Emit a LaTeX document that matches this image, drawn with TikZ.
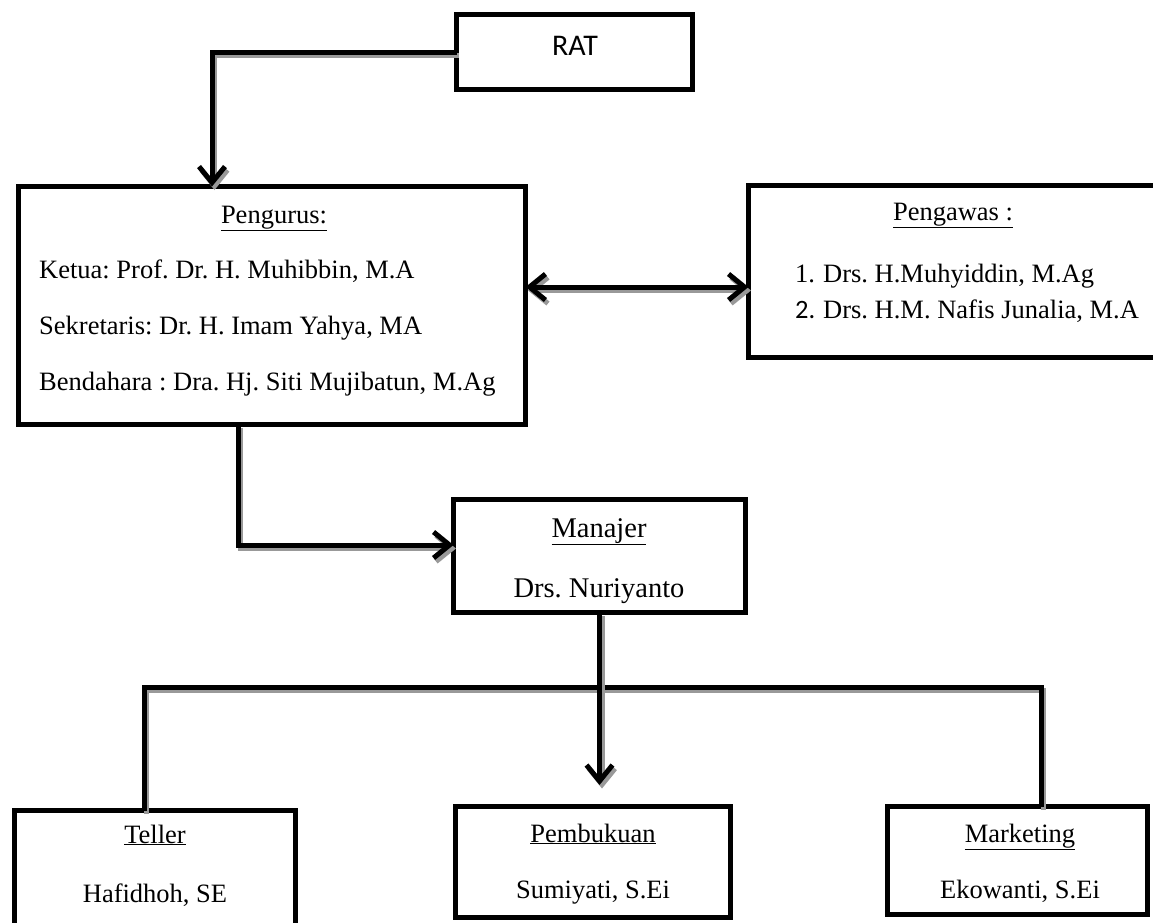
\documentclass[tikz,border=0pt]{standalone}
\usepackage{fontspec}
\setmainfont{Liberation Serif}
\newfontfamily\calibri{Carlito}
\usetikzlibrary{arrows.meta,calc}
\frenchspacing
\tikzset{
  box/.style={draw=black, line width=5pt, fill=white, rectangle, inner sep=0pt, outer sep=0pt},
  txt/.style={inner sep=0pt, font=\frenchspacing\fontsize{26.5}{30}\selectfont},
  bigtxt/.style={inner sep=0pt, font=\frenchspacing\fontsize{28.5}{32}\selectfont},
  conn/.style={draw=black, line width=5pt, line join=miter,
    preaction={draw=black!40, line width=5pt, transform canvas={xshift=2.5pt, yshift=-3.5pt}}},
  chev/.style={-{Straight Barb[length=16pt,width=26pt]}},
  dchev/.style={{Straight Barb[length=16pt,width=26pt]}-{Straight Barb[length=16pt,width=26pt]}}
}
\begin{document}
\begin{tikzpicture}[x=1pt,y=-1pt]
\useasboundingbox (0,0) rectangle (1153,922);
\clip (0,0) rectangle (1153,922);

% boxes
\node[box, minimum width=236pt, minimum height=75pt] (rat) at (574.5,52) {};
\node[box, minimum width=507pt, minimum height=238pt] (pengurus) at (272,305.5) {};
\node[box, minimum width=419pt, minimum height=172pt] (pengawas) at (958,271.5) {};
\node[box, minimum width=292pt, minimum height=113pt] (manajer) at (599.5,556) {};
\node[box, minimum width=281pt, minimum height=122pt] (teller) at (155,871.5) {};
\node[box, minimum width=275pt, minimum height=111pt] (pembukuan) at (593,862) {};
\node[box, minimum width=260pt, minimum height=108pt] (marketing) at (1017.5,860.5) {};

% coordinates
\coordinate (ratdown) at (212,52);
\coordinate (pengin) at (212,0);
\coordinate (mid) at (637,287);
\coordinate (c3) at (238,545);
\coordinate (tip) at (0,785);
\coordinate (busL) at (144,687);
\coordinate (busR) at (1041,687);

% connectors
\draw[conn, chev] (rat.west) -- (ratdown) -- (pengurus.north -| pengin);
\draw[conn, dchev] (pengurus.east |- mid) -- (pengawas.west |- mid);
\draw[conn, chev] (pengurus.south -| c3) -- (c3) -- (manajer.west |- c3);
\draw[conn] (teller.north -| busL) -- (busL) -- (busR) -- (marketing.north -| busR);
\draw[conn, chev] (manajer.south) -- (manajer.south |- tip);

% texts
\node[inner sep=0pt, anchor=base, font=\calibri\fontsize{30}{34}\selectfont] (tRAT) at (575,55) {RAT};

\node[txt, anchor=base] (tPengurus) at (274,223) {\underline{Pengurus:}};
\node[txt, anchor=base west] (tKetua) at (39,278) {Ketua: Prof. Dr. H. Muhibbin, M.A};
\node[txt, anchor=base west] (tSek) at (39,334) {Sekretaris: Dr. H. Imam Yahya, MA};
\node[txt, anchor=base west] (tBend) at (39,390) {Bendahara : Dra. Hj. Siti Mujibatun, M.Ag};

\node[txt, anchor=base] (tPengawas) at (953,220) {\underline{Pengawas :}};
\node[txt, anchor=base west] (n1) at (795,282) {1.};
\node[txt, anchor=base west] (p1) at (823,282) {Drs. H.Muhyiddin, M.Ag};
\node[txt, anchor=base west, font=\calibri\fontsize{26.5}{30}\selectfont] (n2) at (795,318) {2.};
\node[txt, anchor=base west] (p2) at (823,318) {Drs. H.M. Nafis Junalia, M.A};

\node[bigtxt, anchor=base] (tMan) at (599,537) {\underline{Manajer}};
\node[bigtxt, anchor=base] (tNur) at (599,597) {Drs. Nuriyanto};

\node[txt, anchor=base] (tTel) at (155,843) {\underline{Teller}};
\node[txt, anchor=base] (tHaf) at (155,902) {Hafidhoh, SE};

\node[txt, anchor=base] (tPem) at (593,842) {\underline{Pembukuan}};
\node[txt, anchor=base] (tSum) at (593,898) {Sumiyati, S.Ei};

\node[txt, anchor=base] (tMar) at (1020,842) {\underline{Marketing}};
\node[txt, anchor=base] (tEko) at (1020,898) {Ekowanti, S.Ei};
\end{tikzpicture}
\end{document}
